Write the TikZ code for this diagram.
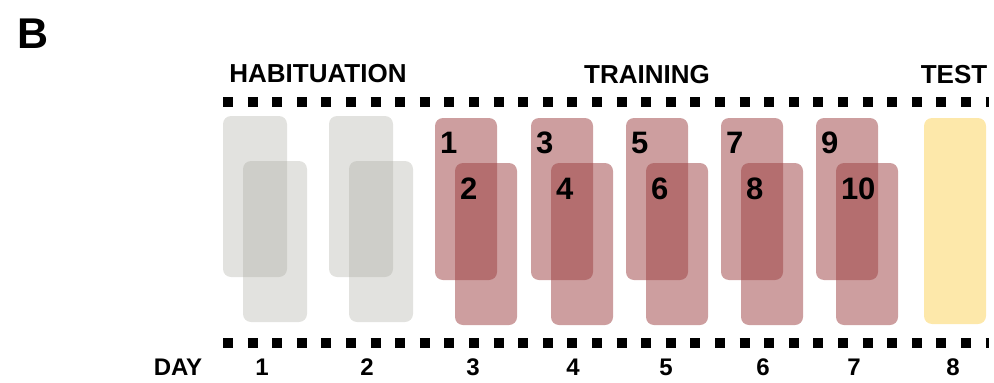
\documentclass[tikz,border=0pt]{standalone}
\usepackage{fontspec}
\setmainfont{Liberation Sans}

\begin{document}
\begin{tikzpicture}[x=1pt,y=-1pt]
\tikzstyle{every node}=[inner sep=0pt, outer sep=0pt]
\tikzstyle{box}=[rectangle, rounded corners=8pt, minimum width=62pt, anchor=north west]
\tikzstyle{hab}=[box, minimum width=64pt, minimum height=161pt, fill={rgb,255:red,160;green,160;blue,150}, fill opacity=.3]
\tikzstyle{trn}=[box, minimum height=162pt, fill={rgb,255:red,155;green,62;blue,64}, fill opacity=.5]
\tikzstyle{tst}=[box, minimum height=206pt, fill={rgb,255:red,253;green,232;blue,170}]
\tikzstyle{num}=[anchor=base west, font=\bfseries\fontsize{31}{31}\selectfont]
\tikzstyle{title}=[anchor=base, font=\bfseries\fontsize{26}{26}\selectfont]
\tikzstyle{daylbl}=[anchor=base, font=\bfseries\fontsize{24}{24}\selectfont]
\tikzstyle{film}=[line width=10pt, dash pattern=on 10pt off 14.6pt]
\useasboundingbox (0,0) rectangle (994,383);

\node (panel) [anchor=base, font=\bfseries\fontsize{43}{43}\selectfont] at (33.5,48) {B};
\node (habit) [title] at (318,82) {HABITUATION};
\node (train) [title] at (647,83) {TRAINING};
\node (test) [title] at (954,83) {TEST};

% film strips
\coordinate (topl) at (223,102);
\coordinate (topr) at (988.5,102);
\coordinate (botl) at (223,343);
\coordinate (botr) at (988.5,343);
\draw[film] (topl) -- (topr);
\draw[film] (botl) -- (botr);

% habituation
\foreach \d/\x in {1/223, 2/329} {
  \node (h\d a) [hab] at (\x,116) {};
  \node (h\d b) [hab] at (\x+20,161) {};
}

% training sessions
\foreach \x/\a/\b in {435/1/2, 531/3/4, 626/5/6, 721/7/8, 816/9/10} {
  \node (s\a) [trn] at (\x,118) {};
  \node (s\b) [trn] at (\x+20,163) {};
  \node (n\a) [num] at (\x+5,153) {\a};
  \node (n\b) [num] at (\x+25,199) {\b};
}

% test
\node (t8) [tst] at (924,118) {};

% days
\node (dayhead) [daylbl] at (178,375) {DAY};
\foreach \d/\x in {1/262, 2/367, 3/473, 4/573, 5/666, 6/763, 7/854, 8/953} {
  \node (day\d) [daylbl] at (\x,375) {\d};
}
\end{tikzpicture}
\end{document}
